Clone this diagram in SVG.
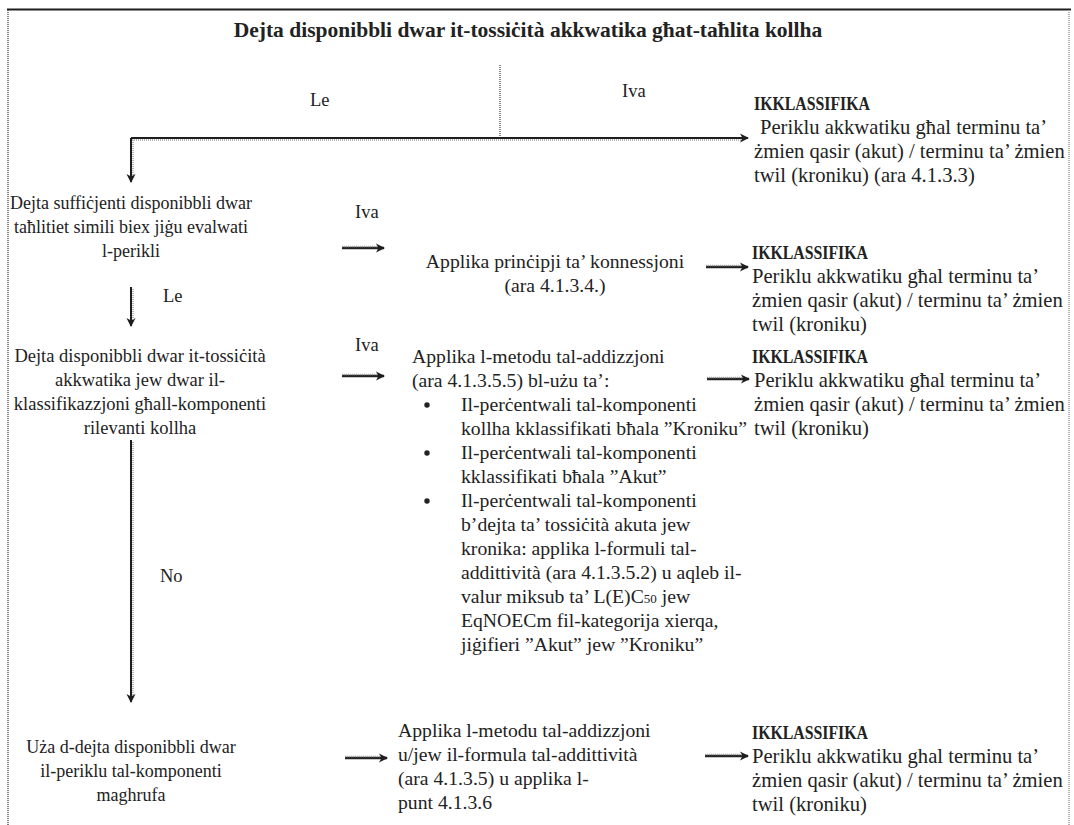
<svg xmlns="http://www.w3.org/2000/svg" width="1074" height="825" viewBox="0 0 1074 825">
<style>
text{font-family:"Liberation Serif","Times New Roman",serif;font-size:18.5px;fill:#222}
.c{text-anchor:middle}
.s{font-size:18px}
.m{font-size:19.7px}
.r{font-size:20.6px}
.t{font-size:21.5px;font-weight:bold}
.k{font-weight:bold;font-size:18.5px}
.ln{stroke:#1e1e1e;stroke-width:2;fill:none}
.sa{stroke:#222;stroke-width:2.5;fill:none}
.sh{stroke:#a0a0a0;stroke-width:1.5;stroke-dasharray:1 1;fill:none}
.dot{stroke:#555;stroke-width:1.5;stroke-dasharray:1 1;fill:none}
</style>
<defs>
<marker id="ah" markerWidth="11" markerHeight="11" refX="9" refY="5.5" orient="auto" markerUnits="userSpaceOnUse">
<path d="M1,1 L10,5.5 L1,10 L3.5,5.5 Z" fill="#1e1e1e"/>
</marker>
</defs>
<rect width="1074" height="825" fill="#fff"/>
<g id="frame">
<line x1="7" y1="9.5" x2="1071" y2="9.5" stroke="#1e1e1e" stroke-width="2"/>
<line x1="8" y1="10" x2="8" y2="825" class="dot"/>
<line x1="1069" y1="10" x2="1069" y2="825" stroke="#999" stroke-width="1.5" stroke-dasharray="1 1"/>
</g>
<g id="title"><text class="t c" x="528" y="37">Dejta disponibbli dwar it-tossiċità akkwatika għat-taħlita kollha</text></g>
<g id="connectors">
<line x1="500" y1="65" x2="500" y2="137" stroke="#888" stroke-width="2" stroke-dasharray="1 1"/>
<line x1="131" y1="138" x2="748" y2="138" class="ln" marker-end="url(#ah)"/>
<line x1="132" y1="140" x2="742" y2="140" class="sh"/>
<line x1="131" y1="138" x2="131" y2="182" class="ln" marker-end="url(#ah)"/>
<line x1="133" y1="140" x2="133" y2="176" class="sh"/>
<line x1="342" y1="248" x2="384" y2="248" class="sa" marker-end="url(#ah)"/>
<line x1="342" y1="246.5" x2="378" y2="246.5" class="sh"/>
<line x1="706" y1="267" x2="748" y2="267" class="sa" marker-end="url(#ah)"/>
<line x1="706" y1="265.5" x2="742" y2="265.5" class="sh"/>
<line x1="131" y1="287" x2="131" y2="326" class="ln" marker-end="url(#ah)"/>
<line x1="133" y1="289" x2="133" y2="320" class="sh"/>
<line x1="342" y1="376" x2="384" y2="376" class="sa" marker-end="url(#ah)"/>
<line x1="342" y1="374.5" x2="378" y2="374.5" class="sh"/>
<line x1="707" y1="379" x2="749" y2="379" class="sa" marker-end="url(#ah)"/>
<line x1="707" y1="377.5" x2="743" y2="377.5" class="sh"/>
<line x1="131" y1="440" x2="131" y2="702" class="ln" marker-end="url(#ah)"/>
<line x1="133" y1="442" x2="133" y2="696" class="sh"/>
<line x1="345" y1="758" x2="387" y2="758" class="sa" marker-end="url(#ah)"/>
<line x1="345" y1="756.5" x2="381" y2="756.5" class="sh"/>
<line x1="705" y1="756" x2="748" y2="756" class="sa" marker-end="url(#ah)"/>
<line x1="705" y1="754.5" x2="742" y2="754.5" class="sh"/>
</g>
<g id="labels">
<text x="310" y="106">Le</text>
<text x="622" y="97">Iva</text>
<text x="355" y="218">Iva</text>
<text x="163" y="302">Le</text>
<text x="355" y="351">Iva</text>
<text x="160" y="582">No</text>
</g>
<g id="class1">
<text class="k" x="754" y="110" textLength="116" lengthAdjust="spacingAndGlyphs">IKKLASSIFIKA</text>
<text class="r" x="760" y="134">Periklu akkwatiku għal terminu ta’</text>
<text class="r" x="754" y="158">żmien qasir (akut) / terminu ta’ żmien</text>
<text class="r" x="754" y="182">twil (kroniku) (ara 4.1.3.3)</text>
</g>
<g id="q1">
<text class="c s" x="131" y="209">Dejta suffiċjenti disponibbli dwar</text>
<text class="c s" x="131" y="233">taħlitiet simili biex jiġu evalwati</text>
<text class="c s" x="131" y="257">l-perikli</text>
</g>
<g id="act1">
<text class="c m" x="555" y="268">Applika prinċipji ta’ konnessjoni</text>
<text class="c m" x="555" y="292">(ara 4.1.3.4.)</text>
</g>
<g id="class2">
<text class="k" x="752" y="259" textLength="116" lengthAdjust="spacingAndGlyphs">IKKLASSIFIKA</text>
<text class="r" x="752" y="283">Periklu akkwatiku għal terminu ta’</text>
<text class="r" x="752" y="307">żmien qasir (akut) / terminu ta’ żmien</text>
<text class="r" x="752" y="331">twil (kroniku)</text>
</g>
<g id="q2">
<text class="c" x="140" y="362">Dejta disponibbli dwar it-tossiċità</text>
<text class="c" x="140" y="386">akkwatika jew dwar il-</text>
<text class="c" x="140" y="410">klassifikazzjoni għall-komponenti</text>
<text class="c" x="140" y="434">rilevanti kollha</text>
</g>
<g id="act2">
<text class="m" x="412" y="363">Applika l-metodu tal-addizzjoni</text>
<text class="m" x="412" y="387">(ara 4.1.3.5.5) bl-użu ta’:</text>
<circle cx="427" cy="405" r="2.7" fill="#222"/>
<text class="m" x="461" y="411">Il-perċentwali tal-komponenti</text>
<text class="m" x="461" y="435">kollha kklassifikati bħala ”Kroniku”</text>
<circle cx="427" cy="453" r="2.7" fill="#222"/>
<text class="m" x="461" y="459">Il-perċentwali tal-komponenti</text>
<text class="m" x="461" y="483">kklassifikati bħala ”Akut”</text>
<circle cx="427" cy="501" r="2.7" fill="#222"/>
<text class="m" x="461" y="507">Il-perċentwali tal-komponenti</text>
<text class="m" x="461" y="531">b’dejta ta’ tossiċità akuta jew</text>
<text class="m" x="461" y="555">kronika: applika l-formuli tal-</text>
<text class="m" x="461" y="579">addittività (ara 4.1.3.5.2) u aqleb il-</text>
<text class="m" x="461" y="603">valur miksub ta’ L(E)C<tspan font-size="13">50</tspan> jew</text>
<text class="m" x="461" y="627">EqNOECm fil-kategorija xierqa,</text>
<text class="m" x="461" y="651">jiġifieri ”Akut” jew ”Kroniku”</text>
</g>
<g id="class3">
<text class="k" x="752" y="363" textLength="116" lengthAdjust="spacingAndGlyphs">IKKLASSIFIKA</text>
<text class="r" x="754" y="387">Periklu akkwatiku għal terminu ta’</text>
<text class="r" x="754" y="411">żmien qasir (akut) / terminu ta’ żmien</text>
<text class="r" x="754" y="435">twil (kroniku)</text>
</g>
<g id="q3">
<text class="c s" x="131" y="753">Uża d-dejta disponibbli dwar</text>
<text class="c s" x="131" y="777">il-periklu tal-komponenti</text>
<text class="c s" x="131" y="801">maghrufa</text>
</g>
<g id="act3">
<text class="m" x="398" y="737">Applika l-metodu tal-addizzjoni</text>
<text class="m" x="398" y="761">u/jew il-formula tal-addittività</text>
<text class="m" x="398" y="785">(ara 4.1.3.5) u applika l-</text>
<text class="m" x="398" y="809">punt 4.1.3.6</text>
</g>
<g id="class4">
<text class="k" x="752" y="739" textLength="116" lengthAdjust="spacingAndGlyphs">IKKLASSIFIKA</text>
<text class="r" x="752" y="763">Periklu akkwatiku ghal terminu ta’</text>
<text class="r" x="752" y="787">żmien qasir (akut) / terminu ta’ żmien</text>
<text class="r" x="752" y="811">twil (kroniku)</text>
</g>
</svg>
